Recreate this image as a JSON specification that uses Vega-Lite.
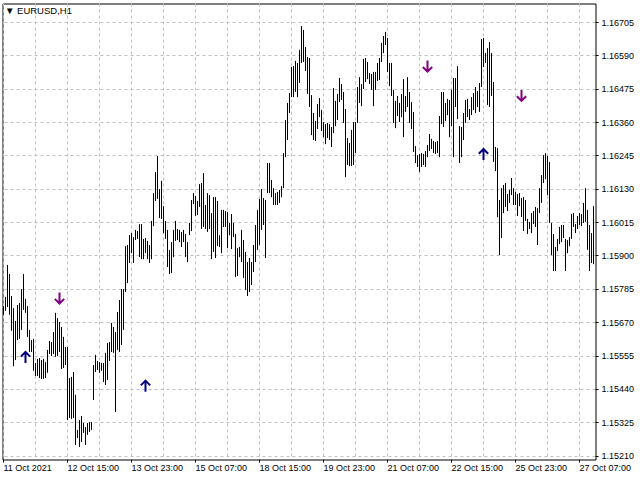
{
"$schema": "https://vega.github.io/schema/vega-lite/v6.json",
"width": 593, "height": 456,
"autosize": "none",
"padding": {"left": 2.5, "top": 3.5, "right": 44.5, "bottom": 20.5},
"background": "white",
"title": {"text": "▼  EURUSD,H1", "anchor": "start", "frame": "group", "orient": "top", "offset": -12, "dx": 2.5, "font": "Liberation Sans", "fontSize": 9.5, "fontWeight": "normal", "color": "black"},
"config": {"view": {"stroke": "black", "strokeWidth": 1}, "axis": {"labelFont": "Liberation Sans", "labelFontSize": 9, "labelColor": "black", "labelOverlap": false}},
"datasets": {
"bars": [
{"i":0,"h":1.15727,"l":1.15697},{"i":1,"h":1.15759,"l":1.15711},{"i":2,"h":1.15869,"l":1.15724},{"i":3,"h":1.15838,"l":1.15697},{"i":4,"h":1.15762,"l":1.15642},
{"i":5,"h":1.15720,"l":1.15520},{"i":6,"h":1.15676,"l":1.15541},{"i":7,"h":1.15731,"l":1.15610},{"i":8,"h":1.15738,"l":1.15614},{"i":9,"h":1.15786,"l":1.15645},
{"i":10,"h":1.15838,"l":1.15714},{"i":11,"h":1.15752,"l":1.15704},{"i":12,"h":1.15727,"l":1.15621},{"i":13,"h":1.15645,"l":1.15569},{"i":14,"h":1.15610,"l":1.15569},
{"i":15,"h":1.15614,"l":1.15504},{"i":16,"h":1.15531,"l":1.15486},{"i":17,"h":1.15545,"l":1.15486},{"i":18,"h":1.15548,"l":1.15479},{"i":19,"h":1.15541,"l":1.15476},
{"i":20,"h":1.15545,"l":1.15476},{"i":21,"h":1.15534,"l":1.15479},{"i":22,"h":1.15576,"l":1.15497},{"i":23,"h":1.15607,"l":1.15562},{"i":24,"h":1.15603,"l":1.15555},
{"i":25,"h":1.15638,"l":1.15562},{"i":26,"h":1.15704,"l":1.15552},{"i":27,"h":1.15686,"l":1.15555},{"i":28,"h":1.15672,"l":1.15569},{"i":29,"h":1.15655,"l":1.15510},
{"i":30,"h":1.15621,"l":1.15514},{"i":31,"h":1.15586,"l":1.15524},{"i":32,"h":1.15586,"l":1.15334},{"i":33,"h":1.15479,"l":1.15341},{"i":34,"h":1.15483,"l":1.15338},
{"i":35,"h":1.15500,"l":1.15341},{"i":36,"h":1.15421,"l":1.15248},{"i":37,"h":1.15300,"l":1.15272},{"i":38,"h":1.15334,"l":1.15241},{"i":39,"h":1.15348,"l":1.15258},
{"i":40,"h":1.15324,"l":1.15290},{"i":41,"h":1.15310,"l":1.15248},{"i":42,"h":1.15324,"l":1.15283},{"i":43,"h":1.15327,"l":1.15293},{"i":44,"h":1.15327,"l":1.15300},
{"i":45,"h":1.15524,"l":1.15403},{"i":46,"h":1.15559,"l":1.15500},{"i":47,"h":1.15538,"l":1.15507},{"i":48,"h":1.15534,"l":1.15497},{"i":49,"h":1.15531,"l":1.15504},
{"i":50,"h":1.15531,"l":1.15465},{"i":51,"h":1.15566,"l":1.15455},{"i":52,"h":1.15600,"l":1.15472},{"i":53,"h":1.15603,"l":1.15538},{"i":54,"h":1.15669,"l":1.15569},
{"i":55,"h":1.15655,"l":1.15566},{"i":56,"h":1.15638,"l":1.15362},{"i":57,"h":1.15707,"l":1.15576},{"i":58,"h":1.15748,"l":1.15569},{"i":59,"h":1.15786,"l":1.15593},
{"i":60,"h":1.15786,"l":1.15645},{"i":61,"h":1.15934,"l":1.15776},{"i":62,"h":1.15938,"l":1.15807},{"i":63,"h":1.15972,"l":1.15876},{"i":64,"h":1.15979,"l":1.15910},
{"i":65,"h":1.15965,"l":1.15876},{"i":66,"h":1.15990,"l":1.15955},{"i":67,"h":1.15986,"l":1.15959},{"i":68,"h":1.16010,"l":1.15896},{"i":69,"h":1.16010,"l":1.15889},
{"i":70,"h":1.15959,"l":1.15889},{"i":71,"h":1.15962,"l":1.15910},{"i":72,"h":1.15952,"l":1.15889},{"i":73,"h":1.15938,"l":1.15876},{"i":74,"h":1.16021,"l":1.15889},
{"i":75,"h":1.16117,"l":1.16003},{"i":76,"h":1.16190,"l":1.16090},{"i":77,"h":1.16245,"l":1.16097},{"i":78,"h":1.16131,"l":1.16031},{"i":79,"h":1.16159,"l":1.16028},
{"i":80,"h":1.16072,"l":1.15979},{"i":81,"h":1.16021,"l":1.15959},{"i":82,"h":1.15990,"l":1.15862},{"i":83,"h":1.15921,"l":1.15838},{"i":84,"h":1.15948,"l":1.15841},
{"i":85,"h":1.15990,"l":1.15896},{"i":86,"h":1.16021,"l":1.15952},{"i":87,"h":1.15993,"l":1.15955},{"i":88,"h":1.15990,"l":1.15948},{"i":89,"h":1.15983,"l":1.15931},
{"i":90,"h":1.15990,"l":1.15948},{"i":91,"h":1.15976,"l":1.15896},{"i":92,"h":1.15948,"l":1.15879},{"i":93,"h":1.16014,"l":1.15972},{"i":94,"h":1.16093,"l":1.15986},
{"i":95,"h":1.16117,"l":1.16079},{"i":96,"h":1.16107,"l":1.16038},{"i":97,"h":1.16090,"l":1.16041},{"i":98,"h":1.16148,"l":1.16069},{"i":99,"h":1.16152,"l":1.15993},
{"i":100,"h":1.16186,"l":1.16000},{"i":101,"h":1.16076,"l":1.15993},{"i":102,"h":1.16117,"l":1.15983},{"i":103,"h":1.16110,"l":1.15993},{"i":104,"h":1.16048,"l":1.15889},
{"i":105,"h":1.16103,"l":1.15914},{"i":106,"h":1.16103,"l":1.15893},{"i":107,"h":1.16090,"l":1.15934},{"i":108,"h":1.15972,"l":1.15931},{"i":109,"h":1.16059,"l":1.15910},
{"i":110,"h":1.16059,"l":1.16000},{"i":111,"h":1.16055,"l":1.16000},{"i":112,"h":1.16052,"l":1.15927},{"i":113,"h":1.16014,"l":1.15972},{"i":114,"h":1.16045,"l":1.15924},
{"i":115,"h":1.16014,"l":1.15965},{"i":116,"h":1.15976,"l":1.15828},{"i":117,"h":1.15927,"l":1.15831},{"i":118,"h":1.15931,"l":1.15896},{"i":119,"h":1.15990,"l":1.15879},
{"i":120,"h":1.15955,"l":1.15824},{"i":121,"h":1.15914,"l":1.15783},{"i":122,"h":1.15879,"l":1.15762},{"i":123,"h":1.15893,"l":1.15776},{"i":124,"h":1.15879,"l":1.15800},
{"i":125,"h":1.15938,"l":1.15845},{"i":126,"h":1.16007,"l":1.15879},{"i":127,"h":1.16059,"l":1.15921},{"i":128,"h":1.16097,"l":1.15938},{"i":129,"h":1.16131,"l":1.15990},
{"i":130,"h":1.16100,"l":1.16007},{"i":131,"h":1.16093,"l":1.15893},{"i":132,"h":1.16221,"l":1.16117},{"i":133,"h":1.16221,"l":1.16117},{"i":134,"h":1.16162,"l":1.16103},
{"i":135,"h":1.16134,"l":1.16076},{"i":136,"h":1.16117,"l":1.16076},{"i":137,"h":1.16121,"l":1.16076},{"i":138,"h":1.16128,"l":1.16083},{"i":139,"h":1.16141,"l":1.16103},
{"i":140,"h":1.16255,"l":1.16134},{"i":141,"h":1.16369,"l":1.16241},{"i":142,"h":1.16428,"l":1.16300},{"i":143,"h":1.16462,"l":1.16393},{"i":144,"h":1.16552,"l":1.16448},
{"i":145,"h":1.16555,"l":1.16448},{"i":146,"h":1.16573,"l":1.16466},{"i":147,"h":1.16566,"l":1.16448},{"i":148,"h":1.16611,"l":1.16497},{"i":149,"h":1.16693,"l":1.16566},
{"i":150,"h":1.16680,"l":1.16569},{"i":151,"h":1.16621,"l":1.16538},{"i":152,"h":1.16586,"l":1.16459},{"i":153,"h":1.16583,"l":1.16414},{"i":154,"h":1.16455,"l":1.16317},
{"i":155,"h":1.16393,"l":1.16300},{"i":156,"h":1.16366,"l":1.16297},{"i":157,"h":1.16424,"l":1.16338},{"i":158,"h":1.16445,"l":1.16379},{"i":159,"h":1.16404,"l":1.16331},
{"i":160,"h":1.16362,"l":1.16310},{"i":161,"h":1.16355,"l":1.16286},{"i":162,"h":1.16359,"l":1.16307},{"i":163,"h":1.16355,"l":1.16300},{"i":164,"h":1.16345,"l":1.16276},
{"i":165,"h":1.16479,"l":1.16324},{"i":166,"h":1.16435,"l":1.16348},{"i":167,"h":1.16459,"l":1.16369},{"i":168,"h":1.16514,"l":1.16431},{"i":169,"h":1.16493,"l":1.16438},
{"i":170,"h":1.16466,"l":1.16359},{"i":171,"h":1.16407,"l":1.16172},{"i":172,"h":1.16307,"l":1.16214},{"i":173,"h":1.16290,"l":1.16210},{"i":174,"h":1.16335,"l":1.16210},
{"i":175,"h":1.16362,"l":1.16214},{"i":176,"h":1.16362,"l":1.16255},{"i":177,"h":1.16483,"l":1.16359},{"i":178,"h":1.16517,"l":1.16428},{"i":179,"h":1.16493,"l":1.16417},
{"i":180,"h":1.16580,"l":1.16476},{"i":181,"h":1.16583,"l":1.16500},{"i":182,"h":1.16569,"l":1.16510},{"i":183,"h":1.16531,"l":1.16493},{"i":184,"h":1.16528,"l":1.16473},
{"i":185,"h":1.16535,"l":1.16417},{"i":186,"h":1.16535,"l":1.16473},{"i":187,"h":1.16566,"l":1.16504},{"i":188,"h":1.16583,"l":1.16507},{"i":189,"h":1.16635,"l":1.16569},
{"i":190,"h":1.16659,"l":1.16600},{"i":191,"h":1.16673,"l":1.16628},{"i":192,"h":1.16652,"l":1.16535},{"i":193,"h":1.16566,"l":1.16486},{"i":194,"h":1.16566,"l":1.16452},
{"i":195,"h":1.16473,"l":1.16359},{"i":196,"h":1.16435,"l":1.16341},{"i":197,"h":1.16452,"l":1.16383},{"i":198,"h":1.16428,"l":1.16362},{"i":199,"h":1.16459,"l":1.16379},
{"i":200,"h":1.16510,"l":1.16310},{"i":201,"h":1.16452,"l":1.16397},{"i":202,"h":1.16517,"l":1.16414},{"i":203,"h":1.16466,"l":1.16359},{"i":204,"h":1.16431,"l":1.16338},
{"i":205,"h":1.16397,"l":1.16259},{"i":206,"h":1.16279,"l":1.16221},{"i":207,"h":1.16248,"l":1.16207},{"i":208,"h":1.16252,"l":1.16190},{"i":209,"h":1.16255,"l":1.16207},
{"i":210,"h":1.16252,"l":1.16214},{"i":211,"h":1.16262,"l":1.16207},{"i":212,"h":1.16283,"l":1.16241},{"i":213,"h":1.16321,"l":1.16262},{"i":214,"h":1.16304,"l":1.16269},
{"i":215,"h":1.16297,"l":1.16255},{"i":216,"h":1.16293,"l":1.16252},{"i":217,"h":1.16297,"l":1.16255},{"i":218,"h":1.16383,"l":1.16241},{"i":219,"h":1.16466,"l":1.16355},
{"i":220,"h":1.16466,"l":1.16345},{"i":221,"h":1.16428,"l":1.16366},{"i":222,"h":1.16442,"l":1.16386},{"i":223,"h":1.16438,"l":1.16310},{"i":224,"h":1.16473,"l":1.16348},
{"i":225,"h":1.16514,"l":1.16241},{"i":226,"h":1.16514,"l":1.16414},{"i":227,"h":1.16555,"l":1.16372},{"i":228,"h":1.16348,"l":1.16221},{"i":229,"h":1.16345,"l":1.16241},
{"i":230,"h":1.16393,"l":1.16300},{"i":231,"h":1.16438,"l":1.16359},{"i":232,"h":1.16442,"l":1.16379},{"i":233,"h":1.16407,"l":1.16369},{"i":234,"h":1.16448,"l":1.16386},
{"i":235,"h":1.16462,"l":1.16404},{"i":236,"h":1.16483,"l":1.16393},{"i":237,"h":1.16469,"l":1.16414},{"i":238,"h":1.16497,"l":1.16397},{"i":239,"h":1.16648,"l":1.16483},
{"i":240,"h":1.16652,"l":1.16552},{"i":241,"h":1.16600,"l":1.16566},{"i":242,"h":1.16617,"l":1.16421},{"i":243,"h":1.16638,"l":1.16414},{"i":244,"h":1.16600,"l":1.16452},
{"i":245,"h":1.16500,"l":1.16224},{"i":246,"h":1.16276,"l":1.16193},{"i":247,"h":1.16272,"l":1.16034},{"i":248,"h":1.16093,"l":1.15903},{"i":249,"h":1.16134,"l":1.15962},
{"i":250,"h":1.16145,"l":1.16048},{"i":251,"h":1.16152,"l":1.16069},{"i":252,"h":1.16114,"l":1.16055},{"i":253,"h":1.16128,"l":1.16083},{"i":254,"h":1.16169,"l":1.16110},
{"i":255,"h":1.16134,"l":1.16076},{"i":256,"h":1.16121,"l":1.16076},{"i":257,"h":1.16114,"l":1.16038},{"i":258,"h":1.16117,"l":1.16072},{"i":259,"h":1.16100,"l":1.16034},
{"i":260,"h":1.16103,"l":1.15986},{"i":261,"h":1.16093,"l":1.16021},{"i":262,"h":1.16028,"l":1.15976},{"i":263,"h":1.16017,"l":1.15993},{"i":264,"h":1.16048,"l":1.15979},
{"i":265,"h":1.16055,"l":1.16010},{"i":266,"h":1.16069,"l":1.16000},{"i":267,"h":1.16065,"l":1.15938},{"i":268,"h":1.16134,"l":1.16048},{"i":269,"h":1.16179,"l":1.16083},
{"i":270,"h":1.16248,"l":1.16152},{"i":271,"h":1.16255,"l":1.16165},{"i":272,"h":1.16245,"l":1.16110},{"i":273,"h":1.16224,"l":1.16014},{"i":274,"h":1.16014,"l":1.15903},
{"i":275,"h":1.15976,"l":1.15848},{"i":276,"h":1.15931,"l":1.15848},{"i":277,"h":1.15959,"l":1.15917},{"i":278,"h":1.16000,"l":1.15941},{"i":279,"h":1.16007,"l":1.15948},
{"i":280,"h":1.16007,"l":1.15962},{"i":281,"h":1.15959,"l":1.15848},{"i":282,"h":1.15955,"l":1.15910},{"i":283,"h":1.15965,"l":1.15934},{"i":284,"h":1.16045,"l":1.15959},
{"i":285,"h":1.16048,"l":1.16000},{"i":286,"h":1.16010,"l":1.15979},{"i":287,"h":1.16038,"l":1.15993},{"i":288,"h":1.16048,"l":1.16007},{"i":289,"h":1.16045,"l":1.16003},
{"i":290,"h":1.16083,"l":1.16014},{"i":291,"h":1.16134,"l":1.16017},{"i":292,"h":1.16059,"l":1.15921},{"i":293,"h":1.16007,"l":1.15848},{"i":294,"h":1.15979,"l":1.15876},
{"i":295,"h":1.16072,"l":1.15872}
],
"arrows": [
{"i":11,"p":1.15550,"dir":"up"},{"i":71,"p":1.15451,"dir":"up"},{"i":240,"p":1.16250,"dir":"up"},
{"i":28,"p":1.15755,"dir":"down"},{"i":212,"p":1.16555,"dir":"down"},{"i":259,"p":1.16454,"dir":"down"}
]
},
"layer": [
{
"data": {"name": "bars"},
"mark": {"type": "rule", "color": "black", "strokeWidth": 1},
"encoding": {
"x": {"field": "i", "type": "quantitative", "scale": {"domain": [-0.5, 296], "nice": false, "zero": false},
"axis": {"orient": "bottom", "values": [0,16,32,48,64,80,96,112,128,144,160,176,192,208,224,240,256,272,288], "tickCount": 40, "translate": 0, "domain": false, "grid": true, "gridColor": "#c0c0c0", "gridDash": [3,3], "gridWidth": 1, "tickColor": "black", "tickSize": 3, "tickOpacity": {"condition": {"test": "datum.value % 32 === 0", "value": 1}, "value": 0}, "labelAlign": "left", "labelBaseline": "top", "labelPadding": 1, "labelFlush": false, "labelOverlap": false, "labelBound": false, "labelExpr": "datum.value % 32 === 0 ? ['11 Oct 2021','12 Oct 15:00','13 Oct 23:00','15 Oct 07:00','18 Oct 15:00','19 Oct 23:00','21 Oct 07:00','22 Oct 15:00','25 Oct 23:00','27 Oct 07:00'][datum.value / 32] : ''", "title": null}},
"y": {"field": "h", "type": "quantitative", "scale": {"domain": [1.15198, 1.16771], "nice": false, "zero": false},
"axis": {"orient": "right", "values": [1.1521,1.15325,1.1544,1.15555,1.1567,1.15785,1.159,1.16015,1.1613,1.16245,1.1636,1.16475,1.1659,1.16705], "tickCount": 40, "format": ".5f", "translate": 0, "domain": false, "grid": true, "gridColor": "#c0c0c0", "gridDash": [3,3], "gridWidth": 1, "tickColor": "black", "tickSize": 3, "labelPadding": 3, "labelAlign": "left", "labelBaseline": "middle", "labelFlush": false, "labelOverlap": false, "labelBound": false, "title": null}},
"y2": {"field": "l"}
}
},
{
"data": {"name": "arrows"},
"mark": {"type": "point", "filled": false, "strokeWidth": 2, "size": 121, "opacity": 1, "strokeCap": "butt", "strokeJoin": "miter"},
"encoding": {
"x": {"field": "i", "type": "quantitative", "scale": {"domain": [-0.5, 296], "nice": false, "zero": false}},
"y": {"field": "p", "type": "quantitative", "scale": {"domain": [1.15198, 1.16771], "nice": false, "zero": false}},
"shape": {"field": "dir", "type": "nominal", "scale": {"domain": ["up", "down"], "range": ["M0,-1L0,1M-0.85,-0.15L0,-1L0.85,-0.15", "M0,1L0,-1M-0.85,0.15L0,1L0.85,0.15"]}, "legend": null},
"color": {"field": "dir", "type": "nominal", "scale": {"domain": ["up", "down"], "range": ["#000080", "#800080"]}, "legend": null}
}
}
]
}
